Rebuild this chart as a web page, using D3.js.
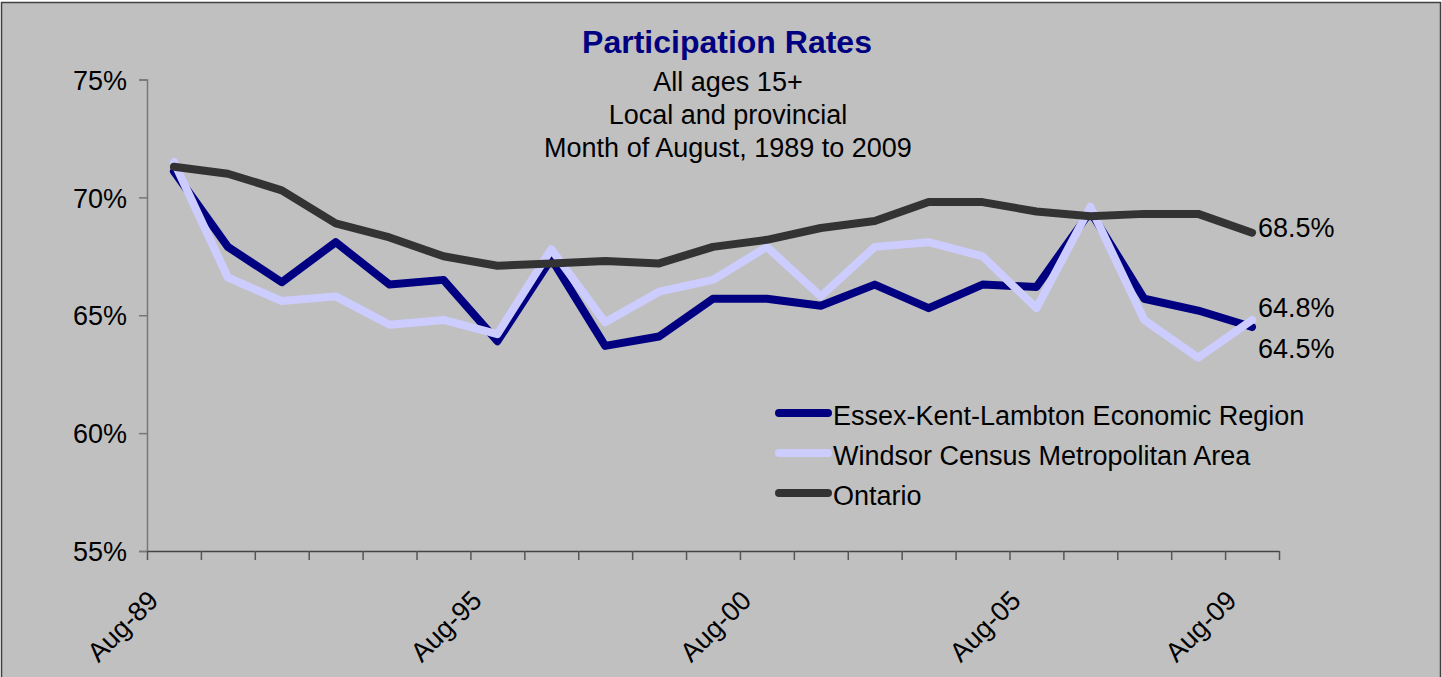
<!DOCTYPE html>
<html>
<head>
<meta charset="utf-8">
<script src="https://cdn.jsdelivr.net/npm/d3@7"></script>
<style>
  body { margin: 0; background: #fff; }
  text { font-family: "Liberation Sans", Arial, sans-serif; fill: #000; }
</style>
</head>
<body>
<div id="chart"></div>
<script>
// categories (month of August each year)
var categories = ["Aug-89","Aug-90","Aug-91","Aug-92","Aug-93","Aug-94","Aug-95","Aug-96","Aug-97","Aug-98",
                  "Aug-99","Aug-00","Aug-01","Aug-02","Aug-03","Aug-04","Aug-05","Aug-06","Aug-07","Aug-08","Aug-09"];
var shownLabels = ["Aug-89","Aug-95","Aug-00","Aug-05","Aug-09"];

// participation rates, %
var essex   = [71.1, 67.9, 66.4, 68.1, 66.3, 66.5, 63.9, 67.4, 63.7, 64.1, 65.7, 65.7, 65.4, 66.3, 65.3, 66.3, 66.2, 69.4, 65.7, 65.2, 64.5];
var windsor = [71.5, 66.6, 65.6, 65.8, 64.6, 64.8, 64.2, 67.8, 64.7, 66.0, 66.5, 67.9, 65.8, 67.9, 68.1, 67.5, 65.3, 69.6, 64.8, 63.2, 64.8];
var ontario = [71.3, 71.0, 70.3, 68.9, 68.3, 67.5, 67.1, 67.2, 67.3, 67.2, 67.9, 68.2, 68.7, 69.0, 69.8, 69.8, 69.4, 69.2, 69.3, 69.3, 68.5];

var seriesNames = ["Essex-Kent-Lambton Economic Region", "Windsor Census Metropolitan Area", "Ontario"];
var yTicks = [55, 60, 65, 70, 75];

var W = 1442, H = 677;
var plot = {left: 147, right: 1279, top: 79.5, bottom: 551};
var fs = "27px";

var svg = d3.select("#chart").append("svg")
    .attr("width", W)
    .attr("height", H);

// background + border
svg.append("rect")
    .attr("x", 1.5).attr("y", 2.5)
    .attr("width", 1439).attr("height", 700)
    .attr("fill", "#c0c0c0")
    .attr("stroke", "#404040")
    .attr("stroke-width", 1.5);

// scales
var x = d3.scaleBand().domain(categories).range([plot.left, plot.right]);
var xi = d3.scaleLinear().domain([0, categories.length]).range([plot.left, plot.right]);
var y = d3.scaleLinear().domain([55, 75]).range([plot.bottom, plot.top]);

// y axis
var yAxis = svg.append("g")
    .attr("transform", "translate(" + plot.left + ",0)")
    .call(d3.axisLeft(y).tickValues(yTicks).tickSize(8).tickPadding(12)
        .tickFormat(function(d) { return d + "%"; }));
yAxis.selectAll("path, line").attr("stroke", "#777").attr("stroke-width", 1.5);
yAxis.selectAll("text").style("font-size", fs).attr("dy", "0.36em");

// x axis: ticks between categories
var xAxis = svg.append("g")
    .attr("transform", "translate(0," + plot.bottom + ")")
    .call(d3.axisBottom(xi).tickValues(d3.range(categories.length + 1)).tickSize(9).tickSizeOuter(0).tickFormat(""));
xAxis.select("path").attr("stroke", "#444").attr("stroke-width", 1.5);
xAxis.selectAll("line").attr("stroke", "#555").attr("stroke-width", 1.5);

// rotated category labels
svg.append("g").selectAll("text")
    .data(shownLabels)
  .enter().append("text")
    .attr("text-anchor", "end")
    .attr("transform", function(d) {
      return "translate(" + (x(d) + x.bandwidth() / 2 - 14) + "," + 602 + ") rotate(-45)";
    })
    .style("font-size", fs)
    .text(function(d) { return d; });

// lines
var line = d3.line()
    .x(function(d, i) { return x(categories[i]) + x.bandwidth() / 2; })
    .y(function(d) { return y(d); });

var series = [
  { name: seriesNames[0], values: essex,   color: "#000080", labelDy: 22 },
  { name: seriesNames[1], values: windsor, color: "#ccccff", labelDy: -12 },
  { name: seriesNames[2], values: ontario, color: "#333333", labelDy: -5 }
];

svg.append("g").selectAll("path")
    .data(series)
  .enter().append("path")
    .attr("d", function(d) { return line(d.values); })
    .attr("fill", "none")
    .attr("stroke", function(d) { return d.color; })
    .attr("stroke-width", 8)
    .attr("stroke-linejoin", "round")
    .attr("stroke-linecap", "round");

// end value labels
var last = categories.length - 1;
svg.append("g").selectAll("text")
    .data(series)
  .enter().append("text")
    .attr("x", x(categories[last]) + x.bandwidth() / 2 + 6)
    .attr("y", function(d) { return y(d.values[last]) + d.labelDy; })
    .attr("dy", "0.35em")
    .style("font-size", fs)
    .text(function(d) { return d.values[last].toFixed(1) + "%"; });

// legend
var legend = svg.append("g").attr("transform", "translate(775,413)");
var item = legend.selectAll("g")
    .data(series)
  .enter().append("g")
    .attr("transform", function(d, i) { return "translate(0," + i * 40 + ")"; });
item.append("line")
    .attr("x1", 4).attr("x2", 53)
    .attr("stroke", function(d) { return d.color; })
    .attr("stroke-width", 8)
    .attr("stroke-linecap", "round");
item.append("text")
    .attr("x", 58)
    .attr("y", 12)
    .style("font-size", fs)
    .text(function(d) { return d.name; });

// title & subtitles
svg.append("text")
    .attr("text-anchor", "middle")
    .attr("x", 727).attr("y", 53)
    .style("font-size", "32px")
    .style("font-weight", "bold")
    .style("fill", "#000080")
    .text("Participation Rates");

var subtitles = ["All ages 15+", "Local and provincial", "Month of August, 1989 to 2009"];
svg.append("g").selectAll("text")
    .data(subtitles)
  .enter().append("text")
    .attr("text-anchor", "middle")
    .attr("x", 728)
    .attr("y", function(d, i) { return 91 + i * 33; })
    .style("font-size", fs)
    .text(function(d) { return d; });
</script>
</body>
</html>
